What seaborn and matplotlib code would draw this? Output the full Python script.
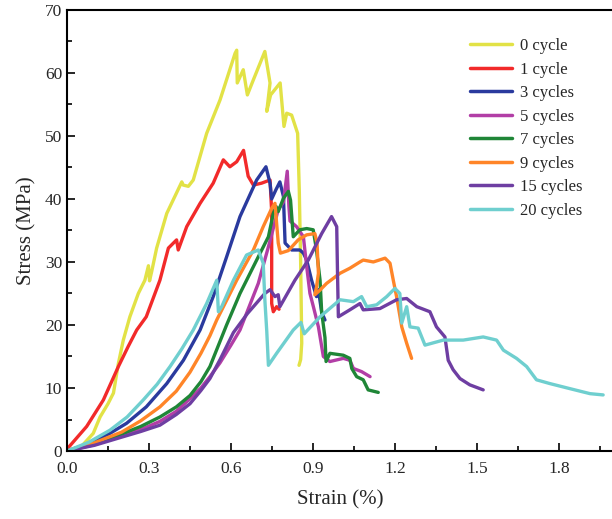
import numpy as np
import pandas as pd
import matplotlib
matplotlib.use('Agg')
import matplotlib.pyplot as plt
import seaborn as sns
from matplotlib.ticker import MultipleLocator

# ── Data ──────────────────────────────────────────────────────────────────────
LABELS = ['0 cycle', '1 cycle', '3 cycles', '5 cycles',
          '7 cycles', '9 cycles', '15 cycles', '20 cycles']
COLORS = ['#E2E246', '#F22A2A', '#2A3A9E', '#B23EA6',
          '#1F8637', '#FF8528', '#6E3EA2', '#6FCFCF']

strain_0 = [0, 0.05, 0.096, 0.121, 0.15, 0.17, 0.188, 0.206, 0.23, 0.261, 0.285,
            0.298, 0.302, 0.31, 0.328, 0.365, 0.42, 0.425, 0.444, 0.462, 0.511,
            0.56, 0.615, 0.621, 0.623, 0.645, 0.66, 0.682, 0.724, 0.743, 0.731,
            0.745, 0.78, 0.794, 0.804, 0.822, 0.844, 0.85, 0.855, 0.859, 0.855, 0.849]
stress_0 = [0, 0.6, 2.8, 5.4, 7.5, 9.2, 13.9, 17.6, 21.3, 25, 27.1,
            29.4, 27, 28.5, 32.2, 37.7, 42.7, 42.2, 42, 43, 50.4,
            55.7, 63.1, 63.6, 58.4, 60.5, 56.5, 58.9, 63.4, 58.4, 53.9,
            56.5, 58.4, 51.5, 53.6, 53.3, 50.4, 41.4, 30, 17.1, 14.5, 13.6]

strain_1 = [0, 0.072, 0.133, 0.188, 0.224, 0.255, 0.29, 0.34, 0.371, 0.401, 0.407,
            0.438, 0.487, 0.535, 0.572, 0.596, 0.621, 0.646, 0.663, 0.682, 0.712,
            0.743, 0.749, 0.749, 0.755, 0.767, 0.776]
stress_1 = [0.3, 3.9, 8.1, 13.4, 16.6, 19.2, 21.3, 27.1, 32.2, 33.5, 31.9,
            35.6, 39.3, 42.5, 46.2, 45.1, 45.9, 47.7, 43.6, 42.2, 42.5,
            43, 38, 23.4, 22.1, 22.9, 22.5]

strain_3 = [0, 0.08, 0.157, 0.218, 0.29, 0.365, 0.426, 0.487, 0.535, 0.584, 0.633,
            0.694, 0.728, 0.743, 0.749, 0.765, 0.779, 0.792, 0.798, 0.822, 0.852,
            0.865, 0.877, 0.895, 0.913, 0.92, 0.932, 0.944]
stress_3 = [0, 1.2, 2.8, 4.4, 7, 10.7, 14.4, 19.2, 24.5, 30.8, 37.2,
            43, 45.1, 42.5, 40, 41.5, 42.7, 40.4, 33, 31.9, 31.9,
            31.4, 30.3, 27.1, 24.5, 25.6, 22, 20.8]

strain_5 = [0, 0.1, 0.2, 0.27, 0.34, 0.4, 0.45, 0.49, 0.523, 0.56, 0.6, 0.633,
            0.7, 0.737, 0.773, 0.792, 0.806, 0.812, 0.816, 0.84, 0.865, 0.877,
            0.889, 0.901, 0.92, 0.938, 0.962, 1.011, 1.035, 1.048, 1.078, 1.109]
stress_5 = [0, 1.0, 2.4, 3.4, 4.7, 6.3, 8.3, 10, 11.8, 14, 16.8, 19.2,
            26.6, 32.4, 38.3, 39.5, 44.4, 38.8, 36.5, 35.6, 34, 29.3,
            25, 23, 19.7, 15, 14.2, 14.7, 14.4, 13.1, 12.6, 11.8]

strain_7 = [0, 0.1, 0.2, 0.27, 0.34, 0.4, 0.45, 0.49, 0.523, 0.584, 0.633, 0.694,
            0.737, 0.755, 0.765, 0.773, 0.792, 0.81, 0.818, 0.828, 0.852, 0.877,
            0.901, 0.913, 0.926, 0.932, 0.944, 0.948, 0.962, 1.011, 1.035, 1.042,
            1.06, 1.084, 1.102, 1.139]
stress_7 = [0, 1.1, 2.7, 3.9, 5.4, 7.0, 8.8, 11, 13.4, 20, 25, 30.3,
            34, 37.7, 38.8, 38, 40.1, 41.2, 39.8, 34, 35.1, 35.3,
            35.1, 31.9, 27.1, 22, 18, 14.2, 15.5, 15.2, 14.7, 13.1,
            11.8, 11.3, 9.7, 9.3]

strain_9 = [0, 0.1, 0.2, 0.27, 0.34, 0.4, 0.45, 0.49, 0.523, 0.548, 0.621, 0.682,
            0.718, 0.749, 0.761, 0.773, 0.781, 0.81, 0.846, 0.877, 0.907, 0.915,
            0.92, 0.913, 0.907, 0.925, 0.95, 0.999, 1.035, 1.072, 1.084, 1.121,
            1.164, 1.182, 1.194, 1.206, 1.225, 1.243, 1.261]
stress_9 = [0, 1.3, 3.0, 4.8, 7.0, 9.5, 12.5, 15.5, 18.3, 20.8, 27.1, 31.9,
            35.6, 38.5, 39.3, 33, 31.4, 31.8, 33.5, 34.3, 34.5, 33,
            28.2, 26, 24.8, 25.5, 26.6, 28.2, 29, 30, 30.3, 30,
            30.6, 29.8, 27.1, 24.5, 19.7, 17.1, 14.7]

strain_15 = [0, 0.1, 0.2, 0.27, 0.34, 0.4, 0.45, 0.49, 0.523, 0.56, 0.609, 0.66,
             0.724, 0.743, 0.761, 0.773, 0.779, 0.834, 0.883, 0.932, 0.968, 0.987,
             0.99, 0.993, 1.035, 1.072, 1.084, 1.145, 1.206, 1.243, 1.28, 1.328,
             1.352, 1.383, 1.395, 1.413, 1.438, 1.474, 1.523]
stress_15 = [0, 0.9, 2.2, 3.1, 4.1, 5.8, 7.5, 9.6, 11.5, 14.5, 18.8, 21.8,
             25, 25.6, 24.5, 24.8, 22.9, 27.1, 30.3, 34.5, 37.2, 35.6,
             28, 21.3, 22.4, 23.4, 22.4, 22.6, 24, 24.2, 22.9, 22.1,
             19.7, 18.1, 14.4, 12.9, 11.5, 10.5, 9.7]

strain_20 = [0, 0.08, 0.157, 0.22, 0.279, 0.33, 0.377, 0.42, 0.462, 0.511, 0.548,
             0.554, 0.566, 0.609, 0.657, 0.70, 0.718, 0.724, 0.731, 0.737, 0.767,
             0.828, 0.856, 0.868, 0.926, 0.999, 1.048, 1.078, 1.097, 1.133, 1.17,
             1.2, 1.218, 1.225, 1.243, 1.255, 1.285, 1.31, 1.377, 1.45, 1.523,
             1.572, 1.597, 1.645, 1.682, 1.718, 1.767, 1.84, 1.914, 1.962]
stress_20 = [0, 1.4, 3.3, 5.4, 8.1, 10.6, 13.4, 16.2, 19.2, 23.4, 27.1,
             22.1, 22.9, 27.1, 31.1, 31.9, 29.8, 24, 19, 13.6, 15.5,
             19.2, 20.4, 18.6, 21.3, 24, 23.7, 24.5, 22.9, 23.2, 24.5,
             25.8, 25, 20.3, 22.9, 19.7, 19.5, 16.8, 17.6, 17.6, 18.1,
             17.6, 16, 14.7, 13.4, 11.3, 10.7, 9.9, 9.1, 8.9]

STRAINS = [strain_0, strain_1, strain_3, strain_5, strain_7, strain_9, strain_15, strain_20]
STRESSES = [stress_0, stress_1, stress_3, stress_5, stress_7, stress_9, stress_15, stress_20]

# ── Long table ────────────────────────────────────────────────────────────────
frames = []
for lab, s, t in zip(LABELS, STRAINS, STRESSES):
    d = pd.DataFrame({'strain': s, 'stress': t})
    d['series'] = lab
    frames.append(d)
df = pd.concat(frames, ignore_index=True)

# ── Plot ──────────────────────────────────────────────────────────────────────
sns.set_style('ticks')
plt.rcParams['font.family'] = ['Liberation Serif', 'DejaVu Serif']

fig = plt.figure(figsize=(6.12, 5.19), dpi=100)
ax = fig.add_axes([0.1095, 0.131, 0.893, 0.85])

sns.lineplot(data=df, x='strain', y='stress', hue='series', hue_order=LABELS,
             palette=dict(zip(LABELS, COLORS)), sort=False, estimator=None,
             linewidth=2.4, ax=ax, legend=False)

ax.set_xlim(0, 2.0)
ax.set_ylim(0, 70)
ax.xaxis.set_major_locator(MultipleLocator(0.3))
ax.xaxis.set_minor_locator(MultipleLocator(0.15))
ax.yaxis.set_major_locator(MultipleLocator(10))
ax.yaxis.set_minor_locator(MultipleLocator(5))
ax.xaxis.set_major_formatter(matplotlib.ticker.FormatStrFormatter('%.1f'))
ax.tick_params(which='both', direction='in', width=1.4, top=False, right=False)
ax.tick_params(which='major', length=6, labelsize=12.5)
ax.tick_params(axis='x', which='major', pad=7)
ax.tick_params(which='minor', length=3.5)
for sp in ax.spines.values():
    sp.set_linewidth(1.5)
    sp.set_color('black')

ax.set_xlabel('Strain (%)', fontsize=15, labelpad=10)
ax.set_ylabel('Stress (MPa)', fontsize=15, labelpad=6)

handles = [plt.Line2D([], [], color=c, lw=2.5) for c in COLORS]
ax.legend(handles, LABELS, frameon=False, loc='upper left',
          bbox_to_anchor=(0.71, 0.97), fontsize=12, handlelength=2.5,
          labelspacing=0.45, handletextpad=0.5)

fig.savefig('out.png', dpi=100)
